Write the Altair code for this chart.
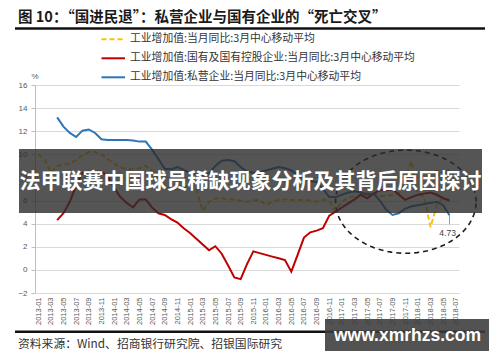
import altair as alt
import pandas as pd
import numpy as np

# ---- data ----
x_tick_labels = ["2013-01","2013-03","2013-05","2013-07","2013-09","2013-11",
                 "2014-01","2014-03","2014-05","2014-07","2014-09","2014-11",
                 "2015-01","2015-03","2015-05","2015-07","2015-09","2015-11",
                 "2016-01","2016-03","2016-05","2016-07","2016-09","2016-11",
                 "2017-01","2017-03","2017-05","2017-07","2017-09","2017-11",
                 "2018-01","2018-03","2018-05","2018-07"]
y_ticks = [-2, 0, 2, 4, 6, 8, 10, 12, 14, 16]

total_start = 0   # month index (0 = 2013-01)
total_vals = [10.0, 9.6, 8.4, 9.0, 9.1, 9.2, 9.5, 9.9, 10.2, 10.2,
              10.0, 9.6, 9.2, 8.9, 8.7, 8.7, 8.8, 9.0, 8.6, 7.9,
              7.3, 7.0, 6.95, 7.1, 7.4, 7.0, 5.1, 5.9, 6.2, 6.2,
              6.1, 6.1, 6.0, 5.9, 6.0, 6.05, 5.6, 5.9, 6.05, 6.1,
              6.05, 6.05, 6.05, 6.0, 5.9, 6.1, 6.0, 5.1, 5.9, 6.3,
              6.35, 6.5, 6.7, 6.6, 6.4, 6.4, 6.5, 6.6, 8.0, 9.4,
              6.6, 6.3, 3.7, 5.6, 6.3, 6.0]

soe_start = 3
soe_vals = [4.3, 4.9, 5.9, 7.3, 8.4, 8.5, 8.5, 8.5, 8.1, 7.1,
            6.3, 5.8, 5.4, 6.1, 6.1, 5.4, 4.9, 4.75, 4.4, 4.1,
            3.6, 3.2, 2.7, 2.2, 1.7, 2.05, 1.4, 0.4, -0.65, -0.8,
            0.5, 1.6, 1.45, 1.3, 1.15, 1.0, 0.85, -0.15, 1.3, 2.8,
            3.25, 3.4, 3.6, 4.7, 5.05, 5.4, 5.75, 6.1, 6.5, 6.2,
            6.6, 6.9, 6.9, 7.0, 6.5, 6.06, 6.3, 6.5, 6.6, 6.7,
            6.5, 6.2, 6.0]

pvt_start = 3
pvt_vals = [13.2, 12.4, 11.85, 11.5, 12.05, 12.15, 11.85, 11.3, 11.25, 11.25,
            11.25, 11.25, 11.2, 11.1, 11.1, 10.4, 9.6, 8.75, 8.7, 8.9,
            8.65, 8.4, 8.25, 8.2, 8.35, 9.0, 9.45, 9.5, 9.4, 8.9,
            8.5, 8.4, 8.45, 8.6, 8.75, 8.9, 8.8, 8.6, 8.2, 7.9,
            7.7, 7.6, 7.0, 6.3, 6.3, 6.5, 6.7, 6.8, 6.7, 6.5,
            6.6, 6.0, 5.2, 4.75, 4.9, 5.3, 5.5, 5.6, 5.7, 5.8,
            5.9, 5.6, 4.73]

legend_names = ["工业增加值:当月同比:3月中心移动平均",
                "工业增加值:国有及国有控股企业:当月同比:3月中心移动平均",
                "工业增加值:私营企业:当月同比:3月中心移动平均"]
colors = ["#FFC000", "#C00000", "#2E75B6"]

title_text = "图 10：“国进民退”：私营企业与国有企业的“死亡交叉”"
source_text = "资料来源：Wind、招商银行研究院、招银国际研究"
banner_text = "法甲联赛中国球员稀缺现象分析及其背后原因探讨"
watermark_text = "www.xmrhzs.com"

# ellipse annotation (data coordinates)
ell_cx, ell_cy, ell_rx, ell_ry = 58.1, 5.9, 11.1, 4.46


def series_df(start, vals):
    return pd.DataFrame({"t": list(range(start, start + len(vals))), "v": vals})


W, H = 424, 208
FONT_CJK = "Noto Sans CJK SC"
FONT_LAT = "Liberation Sans"

label_arr = "[" + ",".join("'" + s + "'" for s in x_tick_labels) + "]"
xscale = alt.Scale(domain=[-0.5, 66.5], nice=False, zero=False)
yscale = alt.Scale(domain=[-2, 16], nice=False, zero=False)

x_enc = alt.X("t:Q", scale=xscale,
              axis=alt.Axis(values=list(range(0, 67, 2)),
                            labelExpr=label_arr + "[round(datum.value/2)]",
                            labelAngle=270, grid=False, ticks=False,
                            domainColor="#d9d9d9", labelFontSize=7.5,
                            labelColor="#595959", labelFont=FONT_LAT,
                            labelPadding=4, title=None, labelOverlap=False,
                            labelBound=False, labelFlush=False))
y_enc = alt.Y("v:Q", scale=yscale,
              axis=alt.Axis(values=y_ticks, grid=True, gridColor="#d9d9d9",
                            tickSize=4, tickColor="#bfbfbf",
                            domainColor="#bfbfbf", labelFontSize=8,
                            labelColor="#595959", labelFont=FONT_LAT,
                            labelPadding=4, title=None, labelOverlap=False,
                            labelBound=False, labelFlush=False))

line_total = alt.Chart(series_df(total_start, total_vals)).mark_line(
    color=colors[0], strokeWidth=2, strokeDash=[5, 3]).encode(x=x_enc, y=y_enc)
line_soe = alt.Chart(series_df(soe_start, soe_vals)).mark_line(
    color=colors[1], strokeWidth=2).encode(x=x_enc, y=y_enc)
line_pvt = alt.Chart(series_df(pvt_start, pvt_vals)).mark_line(
    color=colors[2], strokeWidth=2).encode(x=x_enc, y=y_enc)

ang = np.linspace(0, 2 * np.pi, 121)
ell_df = pd.DataFrame({"i": range(len(ang)),
                       "t": ell_cx + ell_rx * np.cos(ang),
                       "v": ell_cy + ell_ry * np.sin(ang)})
ellipse = alt.Chart(ell_df).mark_line(color="#1a1a1a", strokeWidth=1.6,
                                      strokeDash=[5, 4]).encode(
    x=x_enc, y=y_enc, order="i:Q")

# end labels
end_lbl = pd.DataFrame({"t": [64.7, 63.9], "v": [3.2, 8.4], "s": ["4.73", "6.00"]})
end_text = alt.Chart(end_lbl).mark_text(fontSize=8.5, color="#404040", font=FONT_LAT).encode(
    x=x_enc, y=y_enc, text="s:N")
lead_df = pd.DataFrame({"t": [65], "v": [4.73], "v2": [3.95]})
leader = alt.Chart(lead_df).mark_rule(color="#808080", strokeWidth=0.8).encode(
    x=x_enc, y=y_enc, y2="v2:Q")

one = pd.DataFrame({"k": [0]})


def txt(x, y, s, size, color="#222", weight="normal", font=FONT_CJK, align="left"):
    return alt.Chart(one).mark_text(fontSize=size, color=color, fontWeight=weight,
                                    font=font, align=align, baseline="middle").encode(
        x=alt.value(x), y=alt.value(y), text=alt.value(s))


def hrule(x1, x2, y, color, width, dash=None):
    kw = dict(color=color, strokeWidth=width)
    if dash:
        kw["strokeDash"] = dash
    return alt.Chart(one).mark_rule(**kw).encode(
        x=alt.value(x1), x2=alt.value(x2), y=alt.value(y))


def rect(x1, x2, y1, y2, color, opacity):
    return alt.Chart(one).mark_rect(color=color, opacity=opacity).encode(
        x=alt.value(x1), x2=alt.value(x2), y=alt.value(y1), y2=alt.value(y2))


layers = [ellipse, line_total, line_soe, line_pvt, leader, end_text]

# header / footer
layers.append(txt(-17, -67.5, title_text, 14.5, "#1a1a1a", "bold"))
layers.append(hrule(-20, 450, -56.5, "#111", 2.5))
leg_y = [-45.7, -26.7, -7.7]
for i in range(3):
    layers.append(hrule(66.5, 90, leg_y[i], colors[i], 2, [5, 3] if i == 0 else None))
    layers.append(txt(95, leg_y[i], legend_names[i], 10.8, "#333"))
layers.append(txt(0, -8, "%", 8, "#595959", font=FONT_LAT, align="center"))
layers.append(hrule(-20, 450, 246.7, "#111", 2.5))
layers.append(txt(-17, 258.5, source_text, 11.8, "#333"))

# overlays
layers.append(rect(-16, 447, 64, 128, "#2b2b2b", 0.8))
layers.append(txt(215.5, 97, banner_text, 21, "#ffffff", "bold", align="center"))
layers.append(rect(290, 455, 234, 268, "#3a3a3a", 0.88))
layers.append(txt(372.5, 251, watermark_text, 17.5, "#ffffff", "bold", font=FONT_LAT, align="center"))

chart = alt.layer(*layers).properties(
    width=W, height=H,
    padding={"left": 27, "top": 77, "right": 30, "bottom": 58},
    autosize=alt.AutoSizeParams(type="none"),
    background="white",
).configure_view(stroke=None).configure_axis(labelOverlap=False)

chart.save("out.html", embed_options={"renderer": "svg", "actions": False})
